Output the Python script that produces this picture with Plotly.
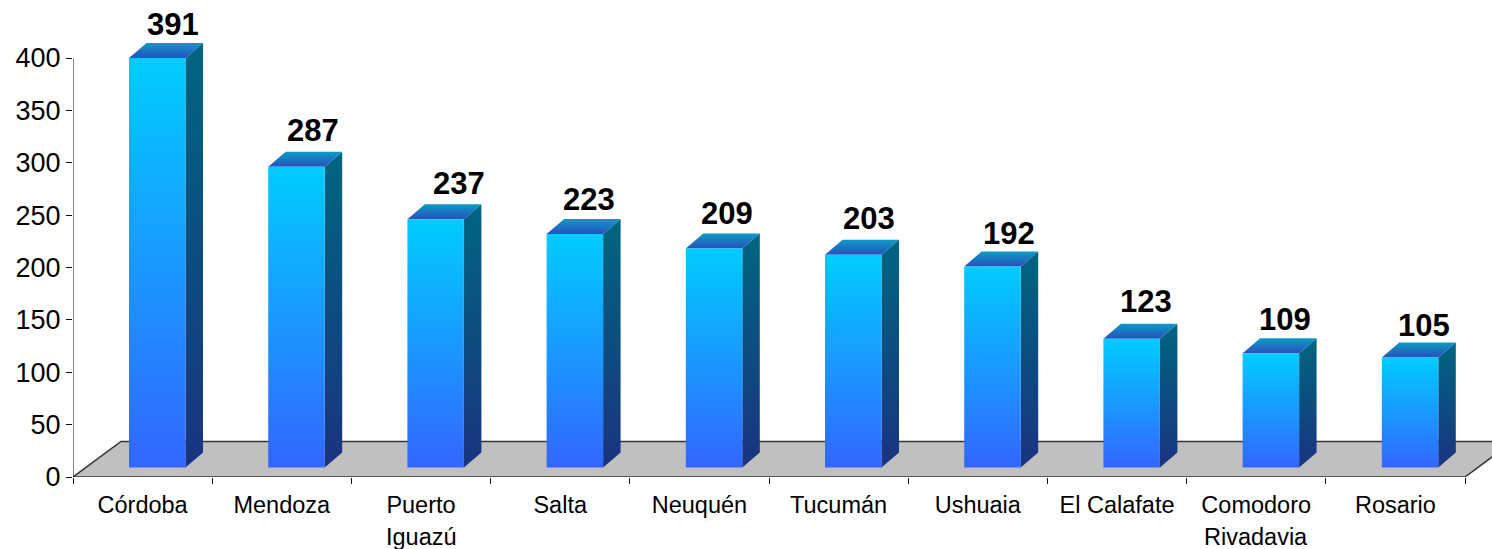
import plotly.graph_objects as go

categories = ["Córdoba", "Mendoza", "Puerto<br>Iguazú", "Salta", "Neuquén", "Tucumán",
              "Ushuaia", "El Calafate", "Comodoro<br>Rivadavia", "Rosario"]
values = [391, 287, 237, 223, 209, 203, 192, 123, 109, 105]
y_ticks = [0, 50, 100, 150, 200, 250, 300, 350, 400]

# fine placement of each value label, in pixels
label_dx = [9, 10, 17, 8, 6, 9, 10, 8, 8, 7]
label_dy = [19, 22, 22, 20, 21, 22, 19, 23, 20, 18]

W, H = 1492, 549
LEFT, BASE_PX, TOP_VAL_PX = 73, 477, 58
CAT_PX = 139.2
PX_PER_UNIT = (BASE_PX - TOP_VAL_PX) / 400
BOTTOM = H - BASE_PX
x_max = (W - LEFT) / CAT_PX
y_max = BASE_PX / PX_PER_UNIT

px_x = 1 / CAT_PX
px_y = 1 / PX_PER_UNIT
bar_off = 56 * px_x
bar_w = 56.5 * px_x
dx = 17.5 * px_x
dy = 15 * px_y
lift = 9.5 * px_y
floor_dx = 48 * px_x
floor_dy = 35.5 * px_y

def grad(bottom, top):
    return dict(type="vertical", colorscale=[[0, bottom], [1, top]])

fig = go.Figure()
common = dict(mode="lines", fill="toself", hoverinfo="skip", showlegend=False)

# floor, kept under all the bars
fig.add_shape(
    type="path", xref="x", yref="y", layer="below",
    path=f"M 0 0 L 10 0 L {10 + floor_dx} {floor_dy} L {floor_dx} {floor_dy} Z",
    fillcolor="#C0C0C0", line=dict(color="#333333", width=1.5))

for i, v in enumerate(values):
    x0 = i + bar_off
    x1 = x0 + bar_w
    y0 = lift
    y1 = v + lift
    # side face
    fig.add_trace(go.Scatter(
        x=[x1, x1 + dx, x1 + dx, x1, x1], y=[y0, y0 + dy, y1 + dy, y1, y0],
        fillgradient=grad("#1A3380", "#006680"), line=dict(width=0), **common))
    # top face
    fig.add_trace(go.Scatter(
        x=[x0, x1, x1 + dx, x0 + dx, x0], y=[y1, y1, y1 + dy, y1 + dy, y1],
        fillgradient=grad("#2A4FBE", "#0A9CC4"), line=dict(width=0), **common))
    # front face
    fig.add_trace(go.Scatter(
        x=[x0, x1, x1, x0, x0], y=[y0, y0, y1, y1, y0],
        fillgradient=grad("#3366FF", "#00CCFF"), line=dict(width=0), **common))

# y axis line
fig.add_trace(go.Scatter(x=[0, 0], y=[0, 400], mode="lines", cliponaxis=False,
                         line=dict(color="#111111", width=1),
                         hoverinfo="skip", showlegend=False))

for i, v in enumerate(values):
    fig.add_annotation(
        x=i + bar_off + bar_w / 2 + dx, y=v + lift + dy, xref="x", yref="y",
        text=f"<b>{v}</b>", showarrow=False, xshift=label_dx[i] - 11, yshift=label_dy[i] - 1,
        font=dict(family="Liberation Sans", size=31, color="#000000"),
        xanchor="center", yanchor="middle")

# category names: first line as tick label, second line placed below it
first_lines = [c.split("<br>")[0] for c in categories]
for i, c in enumerate(categories):
    if "<br>" in c:
        fig.add_annotation(
            x=i + 0.5, y=0, xref="x", yref="paper", text=c.split("<br>")[1],
            showarrow=False, yshift=-60, xanchor="center", yanchor="middle",
            font=dict(family="Liberation Sans", size=23.5, color="#000000"))

fig.update_layout(
    width=W, height=H, margin=dict(l=LEFT, r=0, t=0, b=BOTTOM, pad=0),
    paper_bgcolor="white", plot_bgcolor="white", showlegend=False,
    font=dict(family="Liberation Sans", color="#000000"),
    xaxis=dict(range=[0, x_max], showgrid=False, zeroline=False, showline=False,
               tickmode="array", tickvals=[i + 0.5 for i in range(10)], ticktext=first_lines,
               ticks="", tickfont=dict(size=23.5), tickangle=0, ticklabelstandoff=11,
               minor=dict(tickmode="array", tickvals=list(range(11)), ticks="outside",
                          ticklen=6, tickwidth=1, tickcolor="#111111", showgrid=False)),
    yaxis=dict(range=[0, y_max], showgrid=False, zeroline=False, showline=False,
               tickmode="array", tickvals=y_ticks, ticks="outside", ticklen=6,
               tickwidth=1, tickcolor="#111111", tickfont=dict(size=27)),
)

fig.write_html("out.html", config=dict(displayModeBar=False),
               post_script="document.body.style.margin='0';")
